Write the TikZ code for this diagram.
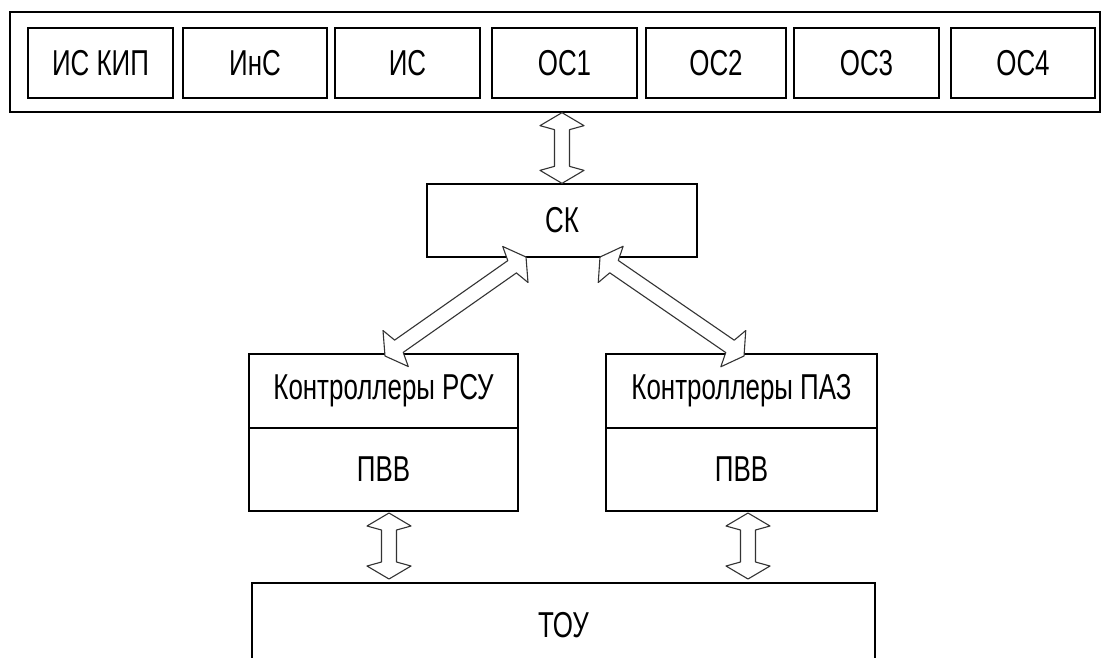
\documentclass[tikz,border=0pt]{standalone}
\usepackage{fontspec}
\setmainfont{Liberation Sans}[FakeStretch=0.72]
\usetikzlibrary{calc}
\newcommand\lblfont{\fontsize{36}{40}\selectfont}
\newcommand\dblarrow[2]{%
  \draw[barrow] (#1)
    -- ($(#1)!13pt!(#2)!22pt!90:(#2)$)
    -- ($(#1)!17pt!(#2)!7.5pt!90:(#2)$)
    -- ($(#2)!17pt!(#1)!7.5pt!-90:(#1)$)
    -- ($(#2)!13pt!(#1)!22pt!-90:(#1)$)
    -- (#2)
    -- ($(#2)!13pt!(#1)!22pt!90:(#1)$)
    -- ($(#2)!17pt!(#1)!7.5pt!90:(#1)$)
    -- ($(#1)!17pt!(#2)!7.5pt!-90:(#2)$)
    -- ($(#1)!13pt!(#2)!22pt!-90:(#2)$)
    -- cycle;}
\begin{document}
\begin{tikzpicture}[x=1pt,y=-1pt,
  box/.style={draw, line width=1.3pt, inner sep=0pt, font=\lblfont},
  barrow/.style={draw=black!80, line width=1.1pt, fill=white, line join=round}]
\clip (0,0) rectangle (1102,657);
\fill[white] (0,0) rectangle (1102,657);
\node[box, minimum width=1090pt, minimum height=100pt] (sys) at (555,62) {};
\node[box, minimum width=145pt, minimum height=70pt] (iskip) at (100.5,63) {ИС КИП};
\node[box, minimum width=144pt, minimum height=70pt] (ins) at (255,63) {ИнС};
\node[box, minimum width=145pt, minimum height=70pt] (is) at (407.5,63) {ИС};
\node[box, minimum width=145pt, minimum height=70pt] (os1) at (564.5,63) {ОС1};
\node[box, minimum width=140pt, minimum height=70pt] (os2) at (716,63) {ОС2};
\node[box, minimum width=145pt, minimum height=70pt] (os3) at (866.5,63) {ОС3};
\node[box, minimum width=144pt, minimum height=70pt] (os4) at (1023,63) {ОС4};
\node[box, minimum width=270pt, minimum height=73pt] (ck) at (562,220.5) {СК};
\node[box, minimum width=269pt, minimum height=74pt] (rsu) at (383.5,391) {Контроллеры РСУ};
\node[box, minimum width=269pt, minimum height=83pt] (pvv1) at (383.5,469.5) {ПВВ};
\node[box, minimum width=271pt, minimum height=74pt] (paz) at (741.5,391) {Контроллеры ПАЗ};
\node[box, minimum width=271pt, minimum height=83pt] (pvv2) at (741.5,469.5) {ПВВ};
\node[box, minimum width=623pt, minimum height=84pt] (tou) at (563.5,625) {ТОУ};
\coordinate (t1) at (ck.north |- sys.south);
\coordinate (t2) at (ck.north);
\coordinate (l1) at (526,257);
\coordinate (l2) at (385,356);
\coordinate (r1) at (600,257);
\coordinate (r2) at (744,356);
\coordinate (b1) at (389,513);
\coordinate (b2) at (389,579);
\coordinate (c1) at (748,513);
\coordinate (c2) at (748,579);
\dblarrow{t1}{t2}
\dblarrow{l1}{l2}
\dblarrow{r1}{r2}
\dblarrow{b1}{b2}
\dblarrow{c1}{c2}
\end{tikzpicture}
\end{document}
